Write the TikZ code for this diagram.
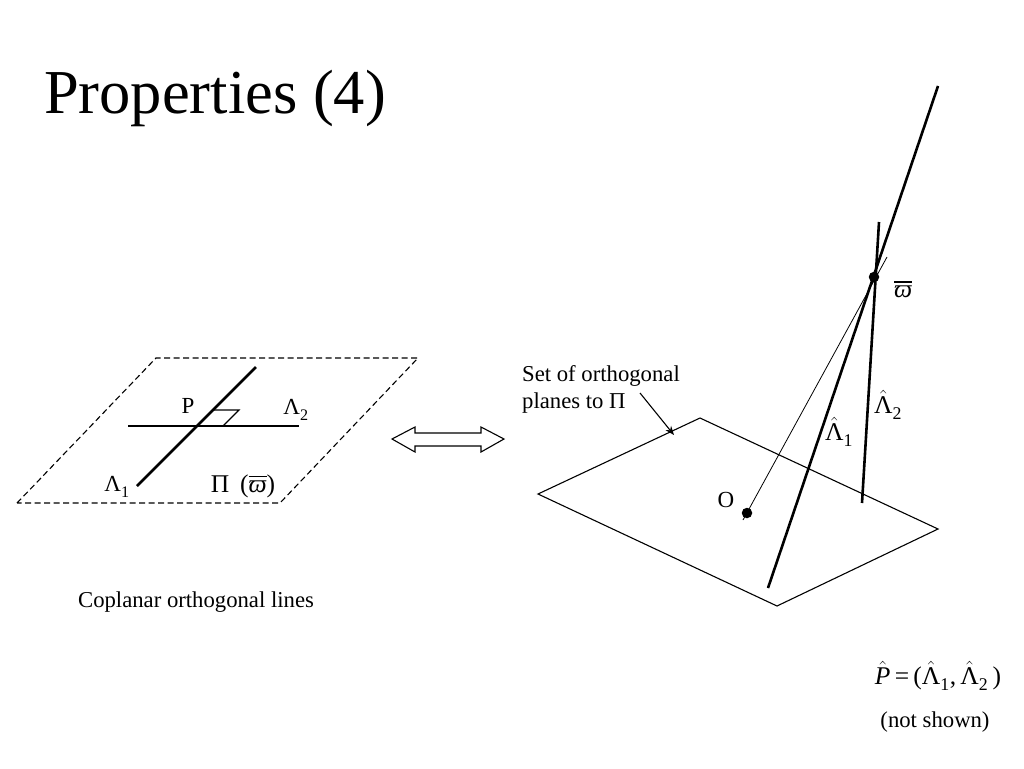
\documentclass[tikz,border=0pt]{standalone}
\usepackage{amsmath,amssymb}
\usepackage{fontspec}
\setmainfont{Liberation Serif}
\usetikzlibrary{arrows.meta,positioning}
\newcommand{\Lam}{\text{Λ}}
\newcommand{\Pig}{\text{Π}}
\newcommand{\vpi}{\overline{\text{\itshape ϖ}}}
\newcommand{\subn}[1]{_{\text{\raisebox{-2.5pt}{#1}}}}
\tikzset{
  >={Stealth[length=9pt,width=7pt]},
  thinln/.style ={line width=1.1pt},
  thickln/.style={line width=2.6pt},
  planeln/.style={line width=1.1pt, dash pattern=on 6pt off 3.5pt},
  dotpt/.style  ={circle, fill=black, inner sep=0pt, minimum size=10.5pt},
  lbl/.style    ={inner sep=0pt, font=\fontsize{23}{26}\selectfont},
  mlbl/.style   ={inner sep=0pt, font=\fontsize{25.5}{28}\selectfont},
  captxt/.style ={inner sep=0pt, align=left, font=\fontsize{22.7}{27}\selectfont},
  ttl/.style    ={inner sep=0pt, font=\fontsize{62.5}{66}\selectfont}
}

\begin{document}
\begin{tikzpicture}[x=1pt,y=-1pt]
\useasboundingbox (0,0) rectangle (1024,768);
\node[ttl] (title) at (215,98) {Properties (4)};

\coordinate (pa) at (17,503);
\coordinate (pb) at (156,358);
\coordinate (pc) at (418,358);
\coordinate (pd) at (280,503);
\draw[planeln] (pa) -- (pb) -- (pc) -- (pd) -- cycle;
\coordinate (laS) at (137,486);
\coordinate (laE) at (256,367);
\coordinate (lbS) at (128,426);
\coordinate (lbE) at (299,426);
\draw[thickln] (laS) -- (laE);
\draw[thickln] (lbS) -- (lbE);
\coordinate (ra) at (213,410);
\coordinate (rb) at (239,410);
\coordinate (rc) at (223,426);
\draw[thinln] (ra) -- (rb) -- (rc);
\node[lbl] (pP) at (188,406) {P};
\node[lbl] (pL2) at (296,410) {$\Lam\subn{2}$};
\node[lbl] (pL1) at (117,487) {$\Lam\subn{1}$};
\node[mlbl] (pPi) at (243,486) {$\Pig\;\,\text{(}\vpi\text{)}$};
\node[captxt] (copl) at (196,602) {Coplanar orthogonal lines};

\draw[thinln, fill=white] (392,439) -- (415,427) -- (415,433) -- (481,433) -- (481,427) -- (504,439)
  -- (481,452) -- (481,446) -- (415,446) -- (415,452) -- cycle;

\coordinate (qa) at (538,494);
\coordinate (qb) at (700,418);
\coordinate (qc) at (938,529);
\coordinate (qd) at (777,606);
\draw[thinln] (qa) -- (qb) -- (qc) -- (qd) -- cycle;
\coordinate (rayS) at (743,520);
\coordinate (rayE) at (887,257);
\draw[line width=.8pt] (rayS) -- (rayE);
\coordinate (haS) at (768,588);
\coordinate (haE) at (938,86);
\coordinate (hbS) at (862,503);
\coordinate (hbE) at (879,222);
\draw[thickln] (haS) -- (haE);
\draw[thickln] (hbS) -- (hbE);
\node[dotpt] (orig) at (747,513) {};
\node[dotpt] (vpt) at (874,277) {};
\node[lbl] (oL) at (726,500) {O};
\node[mlbl] (wL) at (903,289) {$\vpi$};
\node[mlbl] (hL1) at (839,432) {$\hat{\Lam}\subn{1}$};
\node[mlbl] (hL2) at (888,405) {$\hat{\Lam}\subn{2}$};

\node[captxt, anchor=north west] (setT) at (522,365) {Set of orthogonal\\planes to $\Pig$};
\coordinate (arS) at (640,393);
\coordinate (arE) at (674,435);
\draw[->, thinln] (arS) -- (arE);

\node[mlbl] (formula) at (938,676) {$\hat{\text{\itshape P}}\text{\,=\,}\text{(}\hat{\Lam}\subn{1}\text{,\,}\hat{\Lam}\subn{2}\text{\,)}$};
\node[captxt] (notsh) at (935,722) {(not shown)};
\end{tikzpicture}
\end{document}
